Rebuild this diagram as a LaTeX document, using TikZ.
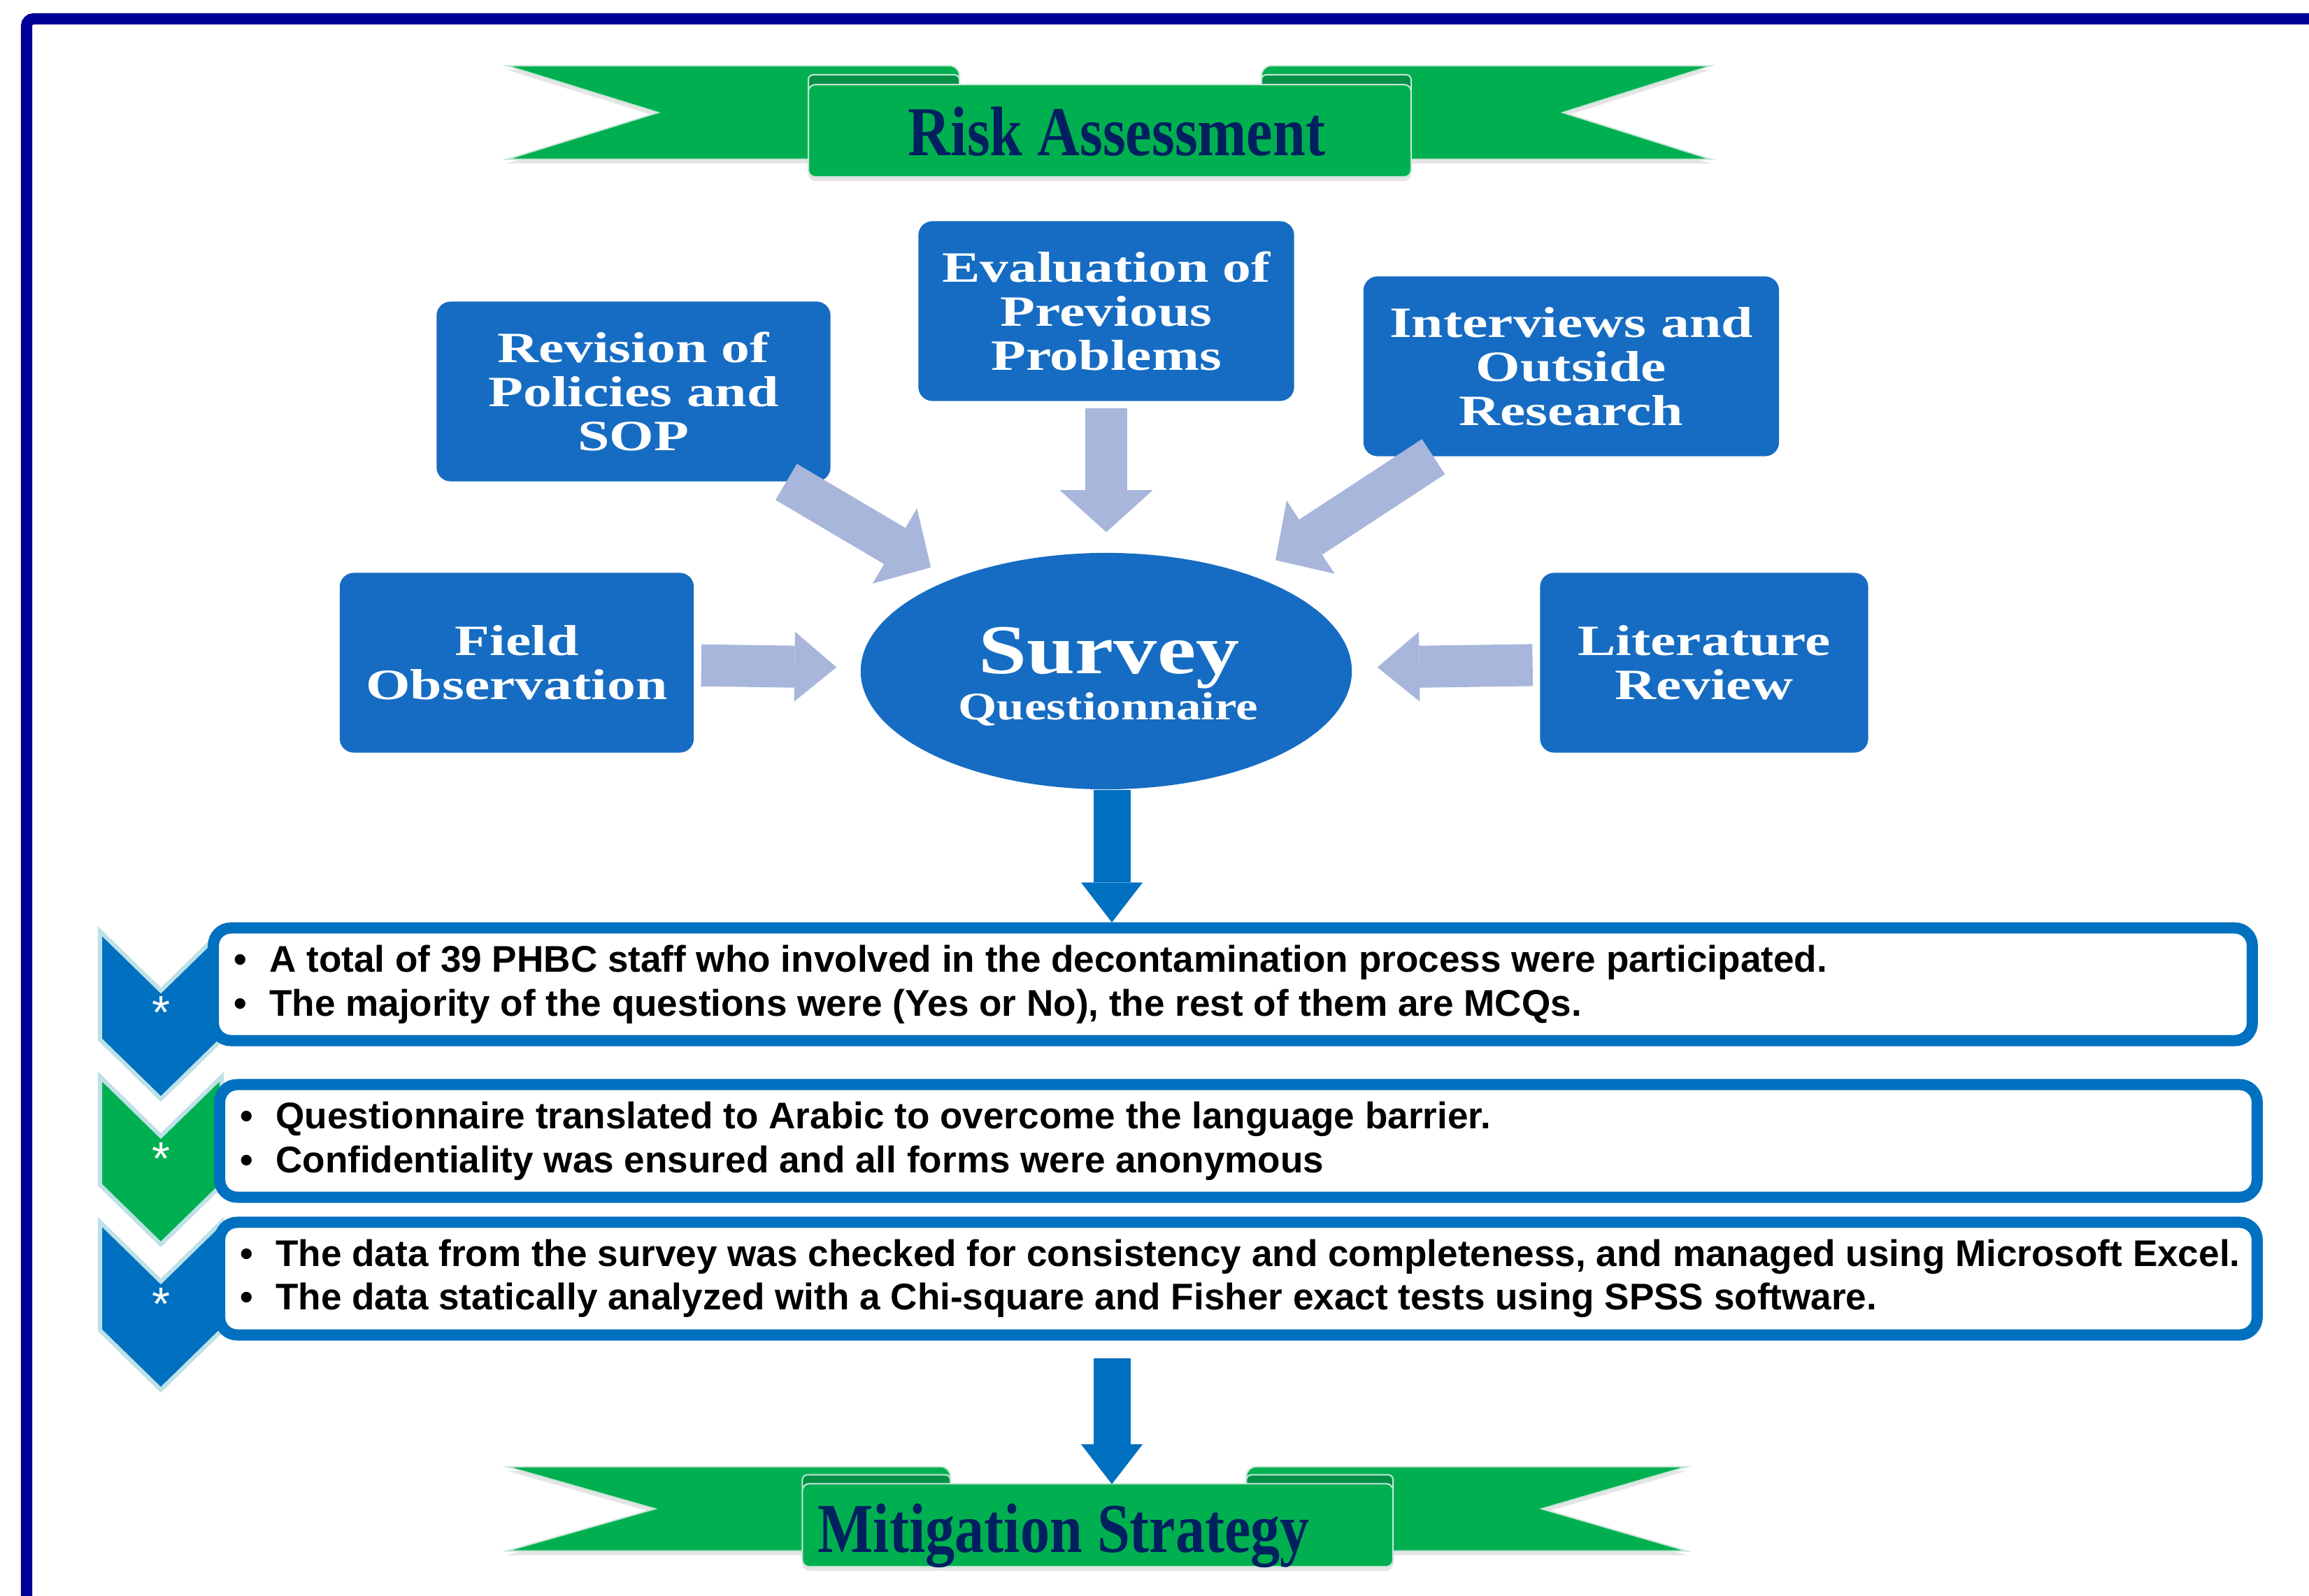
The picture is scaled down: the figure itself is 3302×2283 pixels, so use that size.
\documentclass[tikz,border=0pt]{standalone}
\usepackage{fontspec}
\setmainfont{Liberation Serif}
\newfontfamily\arialfont{Liberation Sans}
\usetikzlibrary{shapes.geometric,arrows.meta,calc,shadows}

\definecolor{boxblue}{RGB}{22,108,194}
\definecolor{flowblue}{RGB}{0,112,192}
\definecolor{feedblue}{RGB}{168,182,220}
\definecolor{ribgreen}{RGB}{0,176,80}
\definecolor{folddark}{RGB}{0,145,70}
\definecolor{ribedge}{RGB}{200,230,215}
\definecolor{navy}{RGB}{0,32,96}
\definecolor{framecol}{RGB}{0,0,153}
\definecolor{chevgreen}{RGB}{0,176,80}
\definecolor{chevedge}{RGB}{190,225,232}

\newcommand{\stretchx}[1]{\scalebox{1.32}[1]{#1}}
\newcommand{\bul}{\textbullet\hspace{0.6em}}

\tikzset{
    srcbox/.style={rectangle, rounded corners=0.2cm, fill=boxblue, text=white,
        minimum height=2.57cm, inner sep=0pt, align=center,
        font=\bfseries\fontsize{17.6}{17.9}\selectfont},
    feed/.style={line width=0.6cm, draw=feedblue,
        -{Triangle[length=0.6cm, width=#1, line width=0pt]}},
    feed/.default=1.25cm,
    downflow/.style={line width=0.53cm, draw=flowblue,
        -{Triangle[length=0.57cm, width=0.88cm, line width=0pt]}},
    notebox/.style={rectangle, draw=flowblue, line width=0.16cm, rounded corners=0.25cm,
        fill=white, minimum height=1.61cm, inner sep=0pt},
    notetext/.style={anchor=west, align=left, inner sep=0pt,
        font=\arialfont\bfseries\fontsize{15.1}{17.8}\selectfont},
    chev/.style={fill=#1, draw=chevedge, line width=0.06cm},
    chevstar/.style={text=white, inner sep=0pt, anchor=base,
        font=\arialfont\fontsize{19}{19}\selectfont},
    ribbontext/.style={text=navy, inner sep=0pt, anchor=base,
        font=\bfseries\fontsize{28.5}{30}\selectfont},
    ribshadow/.style={drop shadow={opacity=0.2, shadow xshift=0cm, shadow yshift=-0.06cm}},
    pics/ribbon/.style={code={
        % tails
        \filldraw[fill=ribgreen, draw=ribedge, line width=0.02cm, ribshadow]
            (0,0) [rounded corners=0.14cm] -- (647,0) -- (647,60) [sharp corners]
            -- (647,134) -- (0,134) -- (216,67) -- cycle;
        \filldraw[fill=ribgreen, draw=ribedge, line width=0.02cm, ribshadow]
            (1722,0) [rounded corners=0.14cm] -- (1079,0) -- (1079,60) [sharp corners]
            -- (1079,134) -- (1722,134) -- (1510,67) -- cycle;
        % folds
        \filldraw[fill=folddark, draw=ribedge, line width=0.02cm, rounded corners=0.07cm]
            (431,13) rectangle (647,40);
        \filldraw[fill=folddark, draw=ribedge, line width=0.02cm, rounded corners=0.07cm]
            (1079,13) rectangle (1293,40);
        % panel
        \filldraw[fill=ribgreen, draw=ribedge, line width=0.02cm, rounded corners=0.1cm, ribshadow]
            (431,27) rectangle (1293,159);
    }}
}

\begin{document}
\begin{tikzpicture}[x=0.01cm, y=-0.01cm]
    \useasboundingbox (0,0) rectangle (3302,2283);
    \clip (0,0) rectangle (3302,2283);
    \fill[white] (0,0) rectangle (3302,2283);

    % frame
    \draw[draw=framecol, line width=0.16cm, rounded corners=0.1cm] (38,2400) -- (38,27) -- (3400,27);

    % banners
    \pic at (725,94) {ribbon};
    \pic[xscale=0.98, yscale=0.9] at (725,2098) {ribbon};
    \node[ribbontext] (riskhead) at (1597,223) {\scalebox{0.84}[1]{Risk Assessment}};
    \node[ribbontext] (mitighead) at (1521,2220) {\scalebox{0.84}[1]{Mitigation Strategy}};
    \coordinate (mitigtop) at (1590,2123);

    % sources
    \node[srcbox, minimum width=5.63cm] (revision) at (906,560) {\stretchx{Revision of}\\\stretchx{Policies and}\\\stretchx{SOP}};
    \node[srcbox, minimum width=5.37cm] (evaluation) at (1582,445) {\stretchx{Evaluation of}\\\stretchx{Previous}\\\stretchx{Problems}};
    \node[srcbox, minimum width=5.94cm] (interviews) at (2247,524) {\stretchx{Interviews and}\\\stretchx{Outside}\\\stretchx{Research}};
    \node[srcbox, minimum width=5.06cm] (field) at (739,948) {\stretchx{Field}\\\stretchx{Observation}};
    \node[srcbox, minimum width=4.69cm] (literature) at (2437,948) {\stretchx{Literature}\\\stretchx{Review}};

    % survey
    \node[ellipse, fill=boxblue, minimum width=7.02cm, minimum height=3.38cm, inner sep=0pt] (survey) at (1582,960) {};
    \node[text=white, inner sep=0pt, anchor=base, font=\bfseries\fontsize{28.5}{30}\selectfont] (surveyword) at (1586,964) {\scalebox{1.24}[1]{Survey}};
    \node[text=white, inner sep=0pt, anchor=base, font=\bfseries\fontsize{15.9}{17}\selectfont] (questword) at (1585,1030) {\scalebox{1.27}[1]{Questionnaire}};

    \draw[feed, shorten >=0.33cm] (revision) -- (survey);
    \draw[feed=1.33cm, shorten <=0.1cm, shorten >=0.29cm] (evaluation) -- (survey);
    \draw[feed, shorten >=0.4cm] (interviews) -- (survey);
    \draw[feed=1cm, shorten <=0.1cm, shorten >=0.34cm] (field) -- (survey);
    \draw[feed=1cm, shorten <=0.1cm, shorten >=0.36cm] (literature) -- (survey);

    % chevrons
    \foreach \dy/\col in {0/flowblue, 208/chevgreen, 416/flowblue} {
        \filldraw[chev=\col] (143,1332+\dy) -- (230,1417+\dy) -- (317,1332+\dy)
            -- (317,1487+\dy) -- (230,1572+\dy) -- (143,1487+\dy) -- cycle;
        \node[chevstar] (ast\dy) at (230,1472+\dy) {*};
    }

    % notes
    \node[notebox, minimum width=29.14cm] (note1) at (1763,1408) {};
    \node[notebox, minimum width=29.12cm] (note2) at (1771,1632) {};
    \node[notebox, minimum width=29.12cm] (note3) at (1771,1829) {};

    \node[notetext] (note1txt) at ([xshift=0.37cm]note1.west) {\bul A total of 39 PHBC staff who involved in the decontamination process were participated.\\\bul The majority of the questions were (Yes or No), the rest of them are MCQs.};
    \node[notetext] (note2txt) at ([xshift=0.37cm]note2.west) {\bul Questionnaire translated to Arabic to overcome the language barrier.\\\bul Confidentiality was ensured and all forms were anonymous};
    \node[notetext] (note3txt) at ([xshift=0.37cm]note3.west) {\bul The data from the survey was checked for consistency and completeness, and managed using Microsoft Excel.\\\bul The data statically analyzed with a Chi-square and Fisher exact tests using SPSS software.};

    \draw[downflow] ([xshift=0.08cm]survey.south) -- ([xshift=0.08cm]survey.south |- note1.north);
    \draw[downflow, shorten <=0.25cm] (mitigtop |- note3.south) -- (mitigtop);
\end{tikzpicture}
\end{document}
